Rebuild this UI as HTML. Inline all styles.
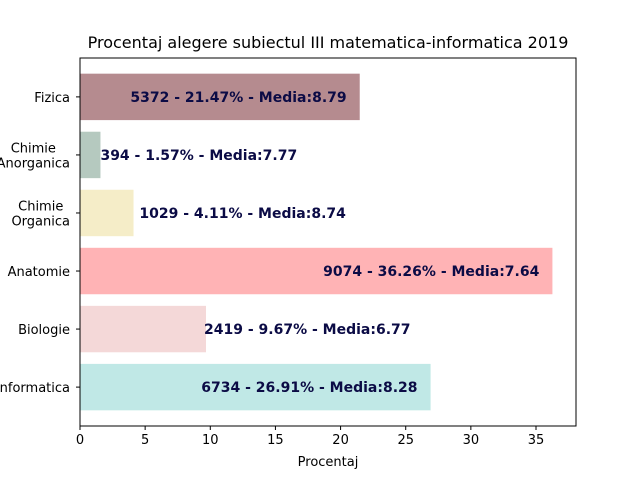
<!DOCTYPE html>
<html><head><meta charset="utf-8"><style>
body{margin:0;background:#fff}
svg{font-family:"DejaVu Sans","Liberation Sans",sans-serif}
</style></head><body>
<svg id="c" width="640" height="480" viewBox="0 0 640 480">
<rect width="640" height="480" fill="#fff"/>
<text x="328" y="48" font-size="16" text-anchor="middle">Procentaj alegere subiectul III matematica-informatica 2019</text>
<g id="bars"></g>
<g id="xt"></g>
<g id="yt"></g>
<rect x="80" y="58" width="496" height="368" fill="none" stroke="#000" stroke-width="1"/>
<text x="328" y="466" font-size="13" text-anchor="middle">Procentaj</text>
</svg>
<script>
const categories=[["Informatica"],["Biologie"],["Anatomie"],["Chimie","Organica"],["Chimie","Anorganica"],["Fizica"]];
const values=[26.91,9.67,36.26,4.11,1.57,21.47];
const counts=[6734,2419,9074,1029,394,5372];
const medias=["8.28","6.77","7.64","8.74","7.77","8.79"];
const colors=["#c0e8e6","#f4d8d8","#ffb3b5","#f5edc8","#b5c9bf","#b58b8f"];
const xticks=[0,5,10,15,20,25,30,35];
const X0=80,X1=576,Y0=58,Y1=426,xmax=38.07;
const xs=v=>X0+v/xmax*(X1-X0);
const step=(Y1-Y0)/6.34;
const yc=i=>Y1-(i+0.67)*step;
const NS="http://www.w3.org/2000/svg";
function mk(t,a,p,txt){const e=document.createElementNS(NS,t);for(const k in a)e.setAttribute(k,a[k]);if(txt!==undefined)e.textContent=txt;p.appendChild(e);return e;}
const bars=document.getElementById('bars'),xt=document.getElementById('xt'),yt=document.getElementById('yt');
values.forEach((v,i)=>{
  const h=step*0.8;
  const r=mk('rect',{x:X0,y:yc(i)-h/2,width:xs(v)-X0,height:h,fill:colors[i]},bars);
  
  
  const lx=v>15?v-17.6:(v<3?v:(v<5?v+0.45:v-0.15));
  const t=mk('text',{x:xs(lx),y:yc(i)+5,'font-size':14,'font-weight':'bold',fill:'#0b0b45'},bars,counts[i]+" - "+v.toFixed(2)+"% - Media:"+medias[i]);
  
  
  mk('line',{x1:X0-4,x2:X0,y1:yc(i),y2:yc(i),stroke:'#000'},yt);
  const lines=categories[i];
  const g=mk('g',{},yt);
  const els=lines.map((s,j)=>{
    const yy=yc(i)+5+(j-(lines.length-1)/2)*15;
    const tt=mk('text',{x:X0-10,y:yy,'font-size':13,'text-anchor':'middle'},g,s);
    
    
    return tt;
  });
  const w=Math.max(...els.map(e=>e.getComputedTextLength()));
  els.forEach(e=>e.setAttribute('x',X0-10-w/2));
});
xticks.forEach(v=>{
  mk('line',{x1:xs(v),x2:xs(v),y1:Y1,y2:Y1+4,stroke:'#000'},xt);
  const t=mk('text',{x:xs(v),y:Y1+18,'font-size':13,'text-anchor':'middle'},xt,v);
  
  
});
</script>
</body></html>
